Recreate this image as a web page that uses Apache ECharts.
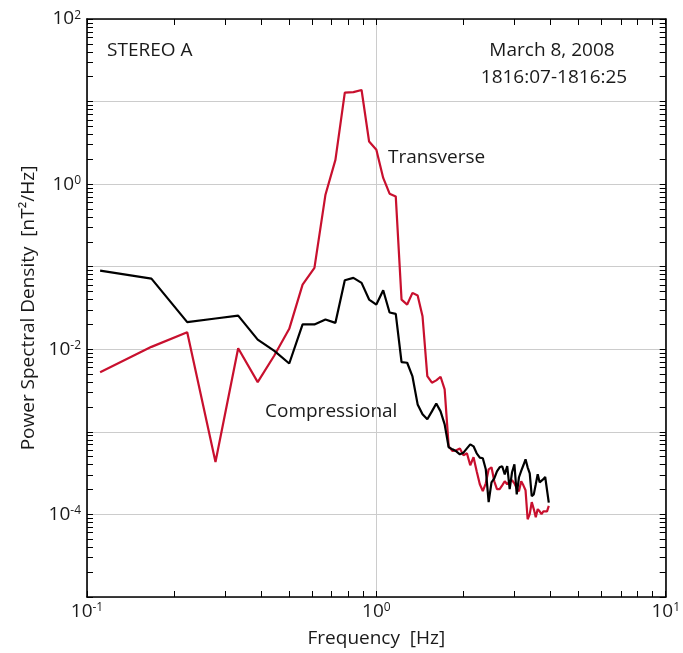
<!DOCTYPE html>
<html>
<head>
<meta charset="utf-8">
<script src="https://cdn.jsdelivr.net/npm/echarts@6/dist/echarts.min.js"></script>
<style>
  html, body { margin: 0; padding: 0; background: #ffffff; }
  #chart { width: 683px; height: 653px; }
</style>
</head>
<body>
<div id="chart"></div>
<script>
// Spectral bins (Hz) for the 18 s interval
const freq = [
  0.111, 0.167, 0.222, 0.278, 0.333, 0.389, 0.444, 0.500, 0.556, 0.611,
  0.667, 0.722, 0.778, 0.833, 0.889, 0.944, 1.000, 1.056, 1.111, 1.167,
  1.222, 1.278, 1.333, 1.389, 1.444, 1.500, 1.556, 1.611, 1.667, 1.722,
  1.778, 1.833, 1.889, 1.944, 2.000, 2.056, 2.111, 2.167, 2.222, 2.278,
  2.333, 2.389, 2.444, 2.500, 2.556, 2.611, 2.667, 2.722, 2.778, 2.833,
  2.889, 2.944, 3.000, 3.056, 3.111, 3.167, 3.222, 3.278, 3.333, 3.389,
  3.444, 3.500, 3.556, 3.611, 3.667, 3.722, 3.778, 3.833, 3.889, 3.944
];

// Transverse power spectral density (nT^2/Hz)
const transverse = [
  0.00528, 0.0107, 0.0161, 0.000431, 0.0103, 0.00400, 0.00841, 0.0177, 0.0608, 0.0966,
  0.745, 1.97, 12.8, 13.0, 13.8, 3.28, 2.61, 1.19, 0.766, 0.710,
  0.0400, 0.0348, 0.0482, 0.0448, 0.0251, 0.00473, 0.00394, 0.00420, 0.00465, 0.00327,
  0.000668, 0.000586, 0.000597, 0.000627, 0.000520, 0.000550, 0.000394, 0.000492, 0.000333, 0.000232,
  0.000192, 0.000238, 0.000352, 0.000372, 0.000252, 0.000202, 0.000202, 0.000225, 0.000252, 0.000232,
  0.000252, 0.000259, 0.000238, 0.000207, 0.000191, 0.000252, 0.000225, 0.000196, 0.0000875, 0.000101,
  0.000141, 0.000116, 0.0000925, 0.000116, 0.000109, 0.000101, 0.000109, 0.000110, 0.000109, 0.000127
];

// Compressional power spectral density (nT^2/Hz)
const compressional = [
  0.0897, 0.0718, 0.0213, 0.0236, 0.0256, 0.0131, 0.00957, 0.00673, 0.0200, 0.0200,
  0.0229, 0.0209, 0.0685, 0.0732, 0.0637, 0.0400, 0.0348, 0.0519, 0.0279, 0.0269,
  0.00698, 0.00687, 0.00469, 0.00215, 0.00163, 0.00142, 0.00177, 0.00221, 0.00177, 0.00123,
  0.000650, 0.000614, 0.000581, 0.000535, 0.000560, 0.000631, 0.000706, 0.000668, 0.000550, 0.000488,
  0.000479, 0.000352, 0.000141, 0.000245, 0.000274, 0.000333, 0.000372, 0.000383, 0.000306, 0.000386,
  0.000202, 0.000324, 0.000405, 0.000175, 0.000282, 0.000336, 0.000394, 0.000465, 0.000372, 0.000315,
  0.000167, 0.000175, 0.000232, 0.000306, 0.000245, 0.000238, 0.000267, 0.000284, 0.000282, 0.000139
];

// Axis ranges and tick mantissas
const xRange = [0.1, 10];
const yRange = [1e-5, 1e2];
const xDecades = [0.1, 1];
const yDecades = [1e-5, 1e-4, 1e-3, 1e-2, 1e-1, 1, 10];
const mantissas = [1, 2, 3, 4, 5, 6, 7, 8, 9];

const FONT = '"Open Sans", "Noto Sans", sans-serif';
const INK = '#1a1a1a';

function logTicks(decades, top) {
  const out = [];
  decades.forEach(d => mantissas.forEach(m => out.push(+(d * m).toPrecision(3))));
  out.push(top);
  return out;
}
const xTicks = logTicks(xDecades, xRange[1]);
const yTicks = logTicks(yDecades, yRange[1]);

function powerLabel(value, evenOnly) {
  const e = Math.round(Math.log10(value));
  if (evenOnly && e % 2 !== 0) return '';
  return '{b|10}{s|' + e + '}';
}
const richPow = {
  b: { fontFamily: FONT, fontSize: 19, color: INK },
  s: { fontFamily: FONT, fontSize: 12, color: INK, verticalAlign: 'top' }
};

const axisLine = { show: true, onZero: false, lineStyle: { color: '#000', width: 1.6 } };
const gridLine = { show: true, lineStyle: { color: '#cccccc', width: 1 } };

// decorative tick-only axis sharing the main range
function tickAxis(position, range, ticks, withLine) {
  return {
    type: 'log', logBase: 10, position: position,
    min: range[0], max: range[1],
    axisLine: withLine ? axisLine : { show: false, onZero: false },
    axisTick: { show: true, inside: true, length: 6, customValues: ticks,
                lineStyle: { color: '#000', width: 1 } },
    axisLabel: { show: false },
    splitLine: { show: false },
    silent: true
  };
}

const chart = echarts.init(document.getElementById('chart'), null, { renderer: 'canvas' });

chart.setOption({
  animation: false,
  backgroundColor: '#ffffff',
  grid: { left: 87, right: 15, top: 19, bottom: 55, containLabel: false },
  xAxis: [
    {
      type: 'log', logBase: 10, position: 'bottom',
      min: xRange[0], max: xRange[1], interval: 1, splitNumber: 2,
      axisLine: axisLine,
      axisTick: { show: false },
      axisLabel: { margin: 5, formatter: v => powerLabel(v, false), rich: richPow },
      splitLine: gridLine,
      name: 'Frequency  [Hz]', nameLocation: 'middle', nameGap: 32,
      nameTextStyle: { fontFamily: FONT, fontSize: 19, color: INK }
    },
    tickAxis('bottom', xRange, xTicks, false),
    tickAxis('top', xRange, xTicks, true)
  ],
  yAxis: [
    {
      type: 'log', logBase: 10, position: 'left',
      min: yRange[0], max: yRange[1], interval: 1, splitNumber: 7,
      axisLine: axisLine,
      axisTick: { show: false },
      axisLabel: { margin: 6, formatter: v => powerLabel(v, true), rich: richPow },
      splitLine: gridLine,
      name: 'Power Spectral Density  [nT²/Hz]', nameLocation: 'middle', nameGap: 44,
      nameRotate: 90,
      nameTextStyle: { fontFamily: FONT, fontSize: 19, color: INK }
    },
    tickAxis('left', yRange, yTicks, false),
    tickAxis('right', yRange, yTicks, true)
  ],
  series: [
    {
      name: 'Transverse', type: 'line', xAxisIndex: 0, yAxisIndex: 0,
      data: freq.map((f, i) => [f, transverse[i]]),
      showSymbol: false, symbol: 'none',
      lineStyle: { color: '#c8102e', width: 2.2 }, z: 3
    },
    {
      name: 'Compressional', type: 'line', xAxisIndex: 0, yAxisIndex: 0,
      data: freq.map((f, i) => [f, compressional[i]]),
      showSymbol: false, symbol: 'none',
      lineStyle: { color: '#000000', width: 2.2 }, z: 4
    }
  ],
  graphic: [
    { type: 'text', x: 107, y: 51, silent: true,
      style: { text: 'STEREO A', fontFamily: FONT, fontSize: 19, fill: INK, align: 'left', verticalAlign: 'middle' } },
    { type: 'text', x: 552, y: 51, silent: true,
      style: { text: 'March 8, 2008', fontFamily: FONT, fontSize: 19, fill: INK, align: 'center', verticalAlign: 'middle' } },
    { type: 'text', x: 554, y: 78, silent: true,
      style: { text: '1816:07-1816:25', fontFamily: FONT, fontSize: 19, fill: INK, align: 'center', verticalAlign: 'middle' } },
    { type: 'text', x: 388, y: 158, silent: true,
      style: { text: 'Transverse', fontFamily: FONT, fontSize: 19, fill: INK, align: 'left', verticalAlign: 'middle' } },
    { type: 'text', x: 265, y: 412, silent: true,
      style: { text: 'Compressional', fontFamily: FONT, fontSize: 19, fill: INK, align: 'left', verticalAlign: 'middle' } }
  ]
});
</script>
</body>
</html>
